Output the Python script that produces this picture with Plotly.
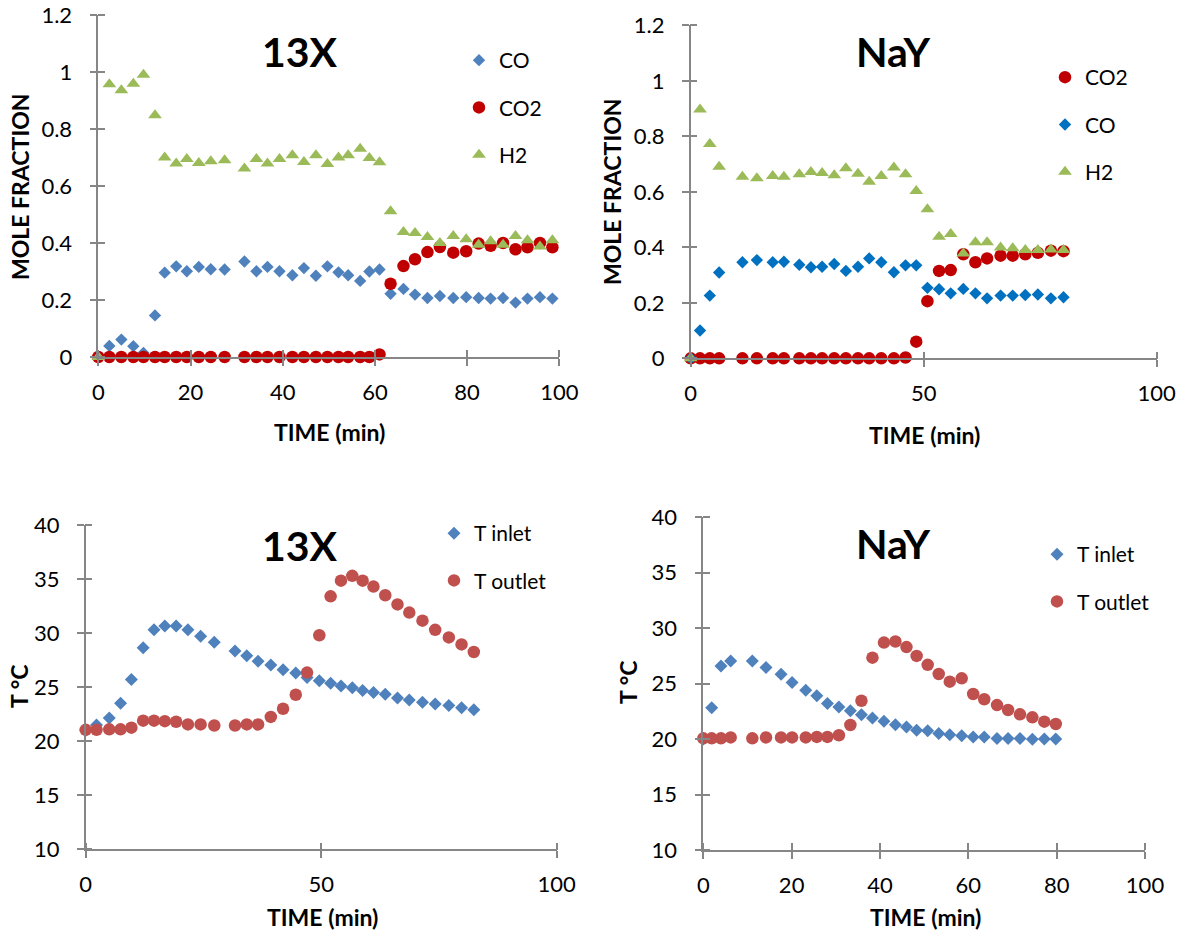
import plotly.graph_objects as go

# ---------------- data ----------------
# 13X: product gas composition (mole fraction) vs time (min)
time_13x = [0, 2.4, 5.0, 7.6, 9.8, 12.3, 14.4, 16.9, 19.2, 21.8, 24.4, 27.4, 31.7, 34.3,
            36.7, 39.3, 42.1, 44.6, 47.2, 49.7, 52.1, 54.2, 56.8, 58.8, 61.0, 63.4, 66.2,
            68.7, 71.4, 74.1, 77.0, 79.8, 82.5, 85.1, 87.8, 90.5, 93.1, 95.8, 98.5]
co_13x = [0.0, 0.039, 0.061, 0.038, 0.014, 0.146, 0.296, 0.318, 0.301, 0.316, 0.308, 0.307,
          0.335, 0.301, 0.316, 0.301, 0.287, 0.312, 0.285, 0.318, 0.297, 0.287, 0.267, 0.300,
          0.307, 0.222, 0.239, 0.219, 0.207, 0.214, 0.207, 0.210, 0.207, 0.205, 0.207, 0.191,
          0.205, 0.210, 0.205]
co2_13x = [0, 0, 0, 0, 0, 0, 0, 0, 0, 0, 0, 0, 0, 0, 0, 0, 0, 0, 0, 0, 0, 0, 0, 0,
           0.009, 0.257, 0.319, 0.343, 0.368, 0.386, 0.366, 0.371, 0.398, 0.390, 0.400,
           0.378, 0.385, 0.400, 0.385]
h2_13x = [0.0, 0.957, 0.936, 0.959, 0.990, 0.848, 0.700, 0.679, 0.695, 0.681, 0.687, 0.690,
          0.661, 0.695, 0.679, 0.695, 0.708, 0.684, 0.708, 0.677, 0.700, 0.708, 0.731, 0.698,
          0.683, 0.511, 0.439, 0.435, 0.421, 0.400, 0.425, 0.413, 0.394, 0.406, 0.394, 0.425,
          0.410, 0.388, 0.410]

# NaY: product gas composition (mole fraction) vs time (min)
time_nay = [0, 2.0, 4.1, 6.1, 11.1, 14.2, 17.6, 20.0, 23.3, 25.8, 28.2, 30.8, 33.3, 35.9,
            38.3, 40.9, 43.6, 46.1, 48.4, 50.8, 53.3, 55.8, 58.5, 61.1, 63.6, 66.5, 69.1,
            71.8, 74.5, 77.3, 80.0]
co2_nay = [0, 0, 0, 0, 0, 0, 0, 0, 0, 0, 0, 0, 0, 0, 0, 0, 0, 0.003, 0.060, 0.206, 0.315,
           0.318, 0.375, 0.346, 0.360, 0.370, 0.370, 0.375, 0.380, 0.388, 0.386]
co_nay = [0.0, 0.100, 0.226, 0.309, 0.346, 0.354, 0.346, 0.348, 0.337, 0.328, 0.330, 0.340,
          0.315, 0.330, 0.360, 0.346, 0.310, 0.335, 0.335, 0.254, 0.249, 0.234, 0.250, 0.234,
          0.216, 0.226, 0.226, 0.228, 0.230, 0.216, 0.220]
h2_nay = [0.0, 0.897, 0.772, 0.690, 0.654, 0.649, 0.657, 0.654, 0.663, 0.671, 0.668, 0.660,
          0.685, 0.665, 0.636, 0.657, 0.688, 0.663, 0.603, 0.537, 0.438, 0.448, 0.378, 0.418,
          0.418, 0.399, 0.397, 0.390, 0.390, 0.392, 0.390]

# 13X: bed temperatures (deg C) vs time (min)
time_t_13x = [0, 2.3, 5.0, 7.4, 9.7, 12.2, 14.5, 16.8, 19.2, 21.7, 24.4, 27.3, 31.7, 34.2,
              36.6, 39.3, 41.9, 44.6, 47.0, 49.6, 52.0, 54.2, 56.6, 58.8, 61.1, 63.6, 66.2,
              68.7, 71.5, 74.2, 77.1, 79.8, 82.4]
t_inlet_13x = [21.0, 21.5, 22.15, 23.5, 25.7, 28.65, 30.3, 30.65, 30.65, 30.3, 29.7, 29.15,
               28.35, 27.9, 27.4, 27.05, 26.6, 26.3, 25.9, 25.6, 25.35, 25.1, 24.95, 24.7,
               24.5, 24.35, 24.0, 23.8, 23.6, 23.45, 23.3, 23.1, 22.9]
t_outlet_13x = [21.05, 21.05, 21.1, 21.1, 21.25, 21.9, 21.9, 21.85, 21.8, 21.55, 21.55, 21.45,
                21.45, 21.55, 21.55, 22.25, 23.0, 24.3, 26.35, 29.8, 33.4, 34.85, 35.3, 34.85,
                34.3, 33.5, 32.65, 31.9, 31.15, 30.3, 29.6, 28.95, 28.25]

# NaY: bed temperatures (deg C) vs time (min)
time_t_nay = [0, 1.9, 4.0, 6.2, 11.1, 14.2, 17.6, 20.1, 23.2, 25.7, 28.1, 30.7, 33.3, 35.8,
              38.3, 40.9, 43.5, 46.0, 48.3, 50.8, 53.3, 55.8, 58.5, 61.1, 63.6, 66.5, 69.0,
              71.7, 74.5, 77.2, 79.8]
t_inlet_nay = [20.0, 22.83, 26.6, 27.05, 27.05, 26.45, 25.85, 25.1, 24.4, 23.9, 23.2, 22.9,
               22.55, 22.2, 21.9, 21.6, 21.3, 21.1, 20.8, 20.75, 20.5, 20.4, 20.3, 20.2, 20.2,
               20.05, 20.05, 20.05, 19.98, 20.0, 20.0]
t_outlet_nay = [20.07, 20.07, 20.07, 20.15, 20.07, 20.15, 20.15, 20.15, 20.15, 20.2, 20.2,
                20.35, 21.27, 23.46, 27.34, 28.7, 28.8, 28.3, 27.5, 26.7, 25.87, 25.18, 25.48,
                24.07, 23.59, 23.07, 22.62, 22.23, 21.96, 21.57, 21.36]

panel_titles = ["13X", "NaY", "13X", "NaY"]
x_title = "TIME (min)"
y_titles = ["MOLE FRACTION", "MOLE FRACTION", "T °C", "T °C"]

# ---------------- styling ----------------
W, H = 1190, 940
FONT = "Lato"
AXC = "#868686"
BLUE = "#4F81BD"
BLUE2 = "#0070C0"
RED = "#C00000"
RED2 = "#C0504D"
GREEN = "#9BBB59"


def px_x(p):
    return p / W


def px_y(p):
    return 1 - p / H


# panel geometry in pixels: (left, right, top, bottom)
boxes = [(98.3, 559.3, 15.0, 357.0),
         (690.7, 1156.7, 25.3, 358.3),
         (85.7, 556.7, 525.0, 849.3),
         (703.3, 1145.0, 517.3, 850.0)]
yranges = [[0, 1.2], [0, 1.2], [10, 40], [10, 40]]
ydticks = [0.2, 0.2, 5, 5]
xdticks = [20, 50, 50, 20]

fig = go.Figure()


def add_points(x, y, name, symbol, color, size, panel):
    sfx = "" if panel == 1 else str(panel)
    fig.add_trace(go.Scatter(
        x=x, y=y, name=name, mode="markers",
        marker=dict(symbol=symbol, color=color, size=size, line=dict(width=0)),
        xaxis="x" + sfx, yaxis="y" + sfx,
        legend="legend" + sfx, legendgroup=f"{name}_{panel}",
        cliponaxis=False,
    ))


add_points(time_13x, co_13x, "CO", "diamond", BLUE, 9.5, 1)
add_points(time_13x, co2_13x, "CO2", "circle", RED, 12.5, 1)
add_points(time_13x, h2_13x, "H2", "triangle-up", GREEN, 12, 1)

add_points(time_nay, co2_nay, "CO2", "circle", RED, 12.5, 2)
add_points(time_nay, co_nay, "CO", "diamond", BLUE2, 9.5, 2)
add_points(time_nay, h2_nay, "H2", "triangle-up", GREEN, 12, 2)

add_points(time_t_13x, t_inlet_13x, "T inlet", "diamond", BLUE, 10, 3)
add_points(time_t_13x, t_outlet_13x, "T outlet", "circle", RED2, 12.5, 3)

add_points(time_t_nay, t_inlet_nay, "T inlet", "diamond", BLUE, 10, 4)
add_points(time_t_nay, t_outlet_nay, "T outlet", "circle", RED2, 12.5, 4)

layout = dict(
    width=W, height=H,
    margin=dict(l=0, r=0, t=0, b=0, autoexpand=False),
    paper_bgcolor="white", plot_bgcolor="white",
    font=dict(family=FONT, size=21, color="black"),
    showlegend=True,
)

tickfont = dict(family=FONT, size=22, color="black")

for i, (l, r, t, b) in enumerate(boxes, start=1):
    sfx = "" if i == 1 else str(i)
    xr = [0, 100]
    common = dict(showgrid=False, zeroline=False, showline=True, linecolor=AXC,
                  linewidth=1.5, tickcolor=AXC, tickwidth=1.5, ticklen=7,
                  ticks="outside", tickfont=tickfont, fixedrange=True, automargin=False)
    # minor ticks on the inner side at the major positions give crossing tick marks
    layout["xaxis" + sfx] = dict(
        domain=[px_x(l), px_x(r)], range=xr, dtick=xdticks[i - 1], tick0=0,
        anchor="y" + sfx, ticklabelstandoff=8,
        minor=dict(ticks="inside", dtick=xdticks[i - 1], tick0=0, ticklen=7,
                   tickwidth=1.5, tickcolor=AXC, showgrid=False),
        **common)
    layout["yaxis" + sfx] = dict(
        domain=[px_y(b), px_y(t)], range=yranges[i - 1], dtick=ydticks[i - 1],
        tick0=yranges[i - 1][0], anchor="x" + sfx, ticklabelstandoff=13,
        minor=dict(ticks="inside", dtick=ydticks[i - 1], tick0=yranges[i - 1][0],
                   ticklen=7, tickwidth=1.5, tickcolor=AXC, showgrid=False),
        **common)

# legends, one per panel
legend_pos = [(459, 40), (1045, 57), (434, 513), (1037, 534)]
for i, (lx, ly) in enumerate(legend_pos, start=1):
    sfx = "" if i == 1 else str(i)
    layout["legend" + sfx] = dict(
        x=px_x(lx), y=px_y(ly), xanchor="left", yanchor="top",
        bgcolor="rgba(0,0,0,0)", borderwidth=0,
        font=dict(family=FONT, size=21, color="black"),
        tracegroupgap=17, itemclick=False, itemdoubleclick=False,
    )

annotations = []
title_pos = [(300, 52), (893, 52), (300, 545), (893, 543)]
for txt, (ax, ay) in zip(panel_titles, title_pos):
    annotations.append(dict(text=f"<b>{txt}</b>", x=px_x(ax), y=px_y(ay),
                            xref="paper", yref="paper", showarrow=False,
                            xanchor="center", yanchor="middle",
                            font=dict(family=FONT, size=41, color="black")))

xt_pos = [(329, 432), (924, 435), (322, 917), (925, 917)]
for (ax, ay) in xt_pos:
    annotations.append(dict(text=f"<b>{x_title}</b>", x=px_x(ax), y=px_y(ay),
                            xref="paper", yref="paper", showarrow=False,
                            xanchor="center", yanchor="middle",
                            font=dict(family=FONT, size=23, color="black")))

yt_pos = [(20, 187), (612, 191), (19, 687), (628, 683)]
for txt, (ax, ay) in zip(y_titles, yt_pos):
    annotations.append(dict(text=f"<b>{txt}</b>", x=px_x(ax), y=px_y(ay),
                            xref="paper", yref="paper", showarrow=False, textangle=-90,
                            xanchor="center", yanchor="middle",
                            font=dict(family=FONT, size=23, color="black")))

layout["annotations"] = annotations
fig.update_layout(**layout)

fig.write_html("out.html")
